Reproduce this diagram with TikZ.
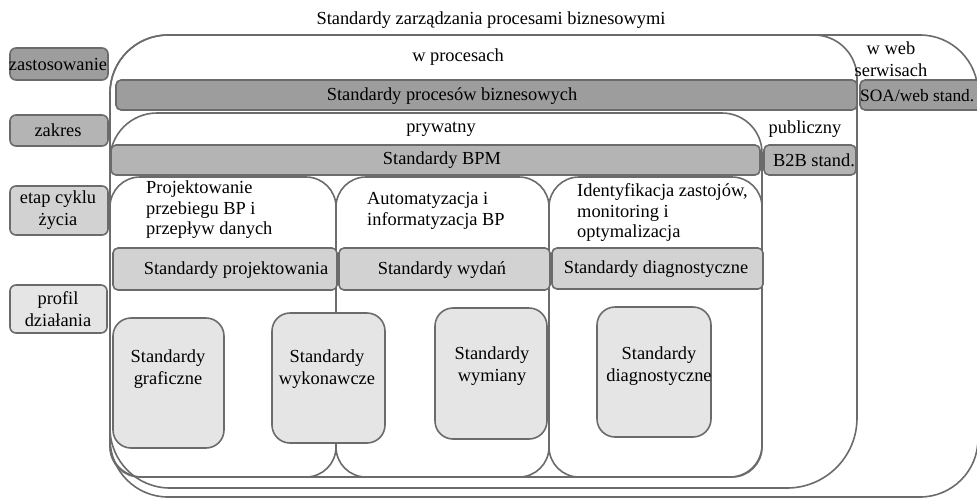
\documentclass[tikz,border=0pt]{standalone}
\usepackage{fontspec}
\setmainfont{Liberation Serif}
\definecolor{lc}{HTML}{6B6B6B}
\definecolor{g1}{HTML}{9D9D9D}
\definecolor{g2}{HTML}{B4B4B4}
\definecolor{g3}{HTML}{D2D2D2}
\definecolor{g4}{HTML}{E5E5E5}
\newcommand\fsz{\fontsize{18.4}{22}\selectfont}
\begin{document}
\begin{tikzpicture}[x=1pt,y=-1pt,
  ln/.style={draw=lc, line width=1.6pt},
  barbox/.style={ln, rounded corners=5},
  profbox/.style={ln, fill=g4, rounded corners=18},
  lbl/.style={inner sep=0pt, font=\fsz, text=black},
  ml/.style={lbl, align=center},
  hd/.style={lbl, align=left, anchor=west}]
\useasboundingbox (0,0) rectangle (977,499);
% outer frames
\draw[ln, rounded corners=58] (110,35) rectangle (978,497);
\draw[ln] (110,93) arc(180:270:58) -- (814,35) arc(-90:0:43) -- (857,418) arc(0:90:70) -- (170,488) arc(90:180:60) -- cycle;
\draw[ln] (110,160) arc(180:270:47) -- (722,113) arc(-90:0:40) -- (762,445) arc(0:90:32) -- (142,477) arc(90:180:32) -- cycle;
% columns
\draw[ln, rounded corners=30] (110,177) rectangle (336,477);
\draw[ln, rounded corners=30] (336,177) rectangle (549,477);
\draw[ln, rounded corners=30] (549,177) rectangle (762,477);
% bars
\draw[barbox, fill=g1] (116,80) rectangle (857,110);
\draw[barbox, fill=g1] (860,80) rectangle (995,110);
\draw[barbox, fill=g2] (111,145) rectangle (760,175);
\draw[barbox, fill=g2] (764,145) rectangle (856,175);
\draw[barbox, fill=g3] (113,248) rectangle (337,290);
\draw[barbox, fill=g3] (339,248) rectangle (550,290);
\draw[barbox, fill=g3] (552,248) rectangle (763,289);
% profile boxes
\draw[profbox] (113,318) rectangle (224,448);
\draw[profbox] (272,313) rectangle (385,443);
\draw[profbox] (435,308) rectangle (547,439);
\draw[profbox] (597,307) rectangle (711,437);
% left labels
\draw[ln, fill=g1, rounded corners=6] (10,48) rectangle (108,80);
\draw[ln, fill=g2, rounded corners=6] (10,115) rectangle (108,146);
\draw[ln, fill=g3, rounded corners=6] (10,186) rectangle (108,235);
\draw[ln, fill=g4, rounded corners=6] (10,285) rectangle (107,333);
% texts
\node[lbl] (title) at (491,20) {Standardy zarządzania procesami biznesowymi};
\node[lbl] (wproc) at (458,57) {w procesach};
\node[ml] (wweb) at (891,59) {w web\\serwisach};
\node[lbl] (spb) at (452,96) {Standardy procesów biznesowych};
\node[lbl, anchor=west, font=\fontsize{17.4}{21}\selectfont] (soa) at (860,96) {SOA/web stand.};
\node[lbl] (pryw) at (441,129) {prywatny};
\node[lbl] (publ) at (805,129) {publiczny};
\node[lbl] (bpm) at (442,160) {Standardy BPM};
\node[lbl] (b2b) at (814,160) {B2B stand.};
\node[hd, font=\fontsize{18.4}{20.5}\selectfont] (h1) at (146,210) {Projektowanie\\przebiegu BP i\\przepływ danych};
\node[hd, font=\fontsize{18.4}{21}\selectfont] (h2) at (367,211) {Automatyzacja i\\informatyzacja BP};
\node[hd, font=\fontsize{18.4}{20.5}\selectfont] (h3) at (577,213) {Identyfikacja zastojów,\\monitoring i\\optymalizacja};
\node[lbl] (sproj) at (236,270) {Standardy projektowania};
\node[lbl] (swyd) at (442,270) {Standardy wydań};
\node[lbl] (sdiag) at (656,269) {Standardy diagnostyczne};
\node[lbl] (zast) at (58,64) {zastosowanie};
\node[lbl] (zakr) at (58,130) {zakres};
\node[ml] (etap) at (58,210) {etap cyklu\\życia};
\node[ml] (prof) at (58,309) {profil\\działania};
\node[ml] (graf) at (168,369) {Standardy\\graficzne};
\node[ml] (wyk) at (327,369) {Standardy\\wykonawcze};
\node[ml] (wym) at (492,366) {Standardy\\wymiany};
\node[ml] (diag) at (659,366) {Standardy\\diagnostyczne};
\end{tikzpicture}
\end{document}
